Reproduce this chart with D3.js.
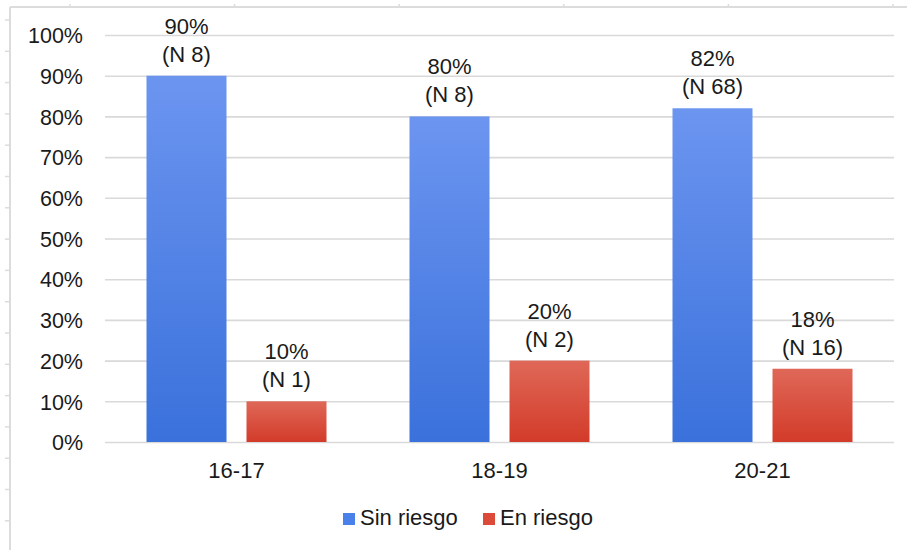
<!DOCTYPE html>
<html><head><meta charset="utf-8">
<script src="https://cdn.jsdelivr.net/npm/d3@7"></script>
<style>
html,body{margin:0;padding:0;background:#fff;}
svg{display:block;font-family:"Liberation Sans",Arial,Helvetica,sans-serif;}
</style></head>
<body>
<svg id="chart" width="907" height="550"></svg>
<script>
const categories = ["16-17", "18-19", "20-21"];
const seriesNames = ["Sin riesgo", "En riesgo"];
const sinRiesgo = [90, 80, 82];
const enRiesgo = [10, 20, 18];
const sinRiesgoN = [8, 8, 68];
const enRiesgoN = [1, 2, 16];
const yTicks = [0, 10, 20, 30, 40, 50, 60, 70, 80, 90, 100];

const svg = d3.select("#chart");
const W = 907, H = 550;
const plot = {left: 105, right: 894, top: 35, bottom: 442};

// gradients
const defs = svg.append("defs");
const gradSpecs = [
  {id: "gBlue", top: "#6c95f0", bottom: "#3a71db"},
  {id: "gRed", top: "#df6858", bottom: "#d33b29"}
];
gradSpecs.forEach(g => {
  const lg = defs.append("linearGradient").attr("id", g.id)
    .attr("x1", 0).attr("y1", 0).attr("x2", 0).attr("y2", 1);
  lg.append("stop").attr("offset", "0%").attr("stop-color", g.top);
  lg.append("stop").attr("offset", "100%").attr("stop-color", g.bottom);
});

// outer frame (spreadsheet-style border)
const frame = svg.append("g").attr("stroke", "#dcdcdc").attr("fill", "none");
frame.append("line").attr("x1", 10).attr("x2", W).attr("y1", 7).attr("y2", 7).attr("stroke-width", 2);
frame.append("line").attr("x1", 10).attr("x2", 10).attr("y1", 7).attr("y2", H).attr("stroke-width", 2);
d3.range(70, W, 164.6).forEach(x => {
  frame.append("line").attr("x1", x).attr("x2", x).attr("y1", 4).attr("y2", 7).attr("stroke-width", 1.5);
});
d3.range(20, H, 31.3).forEach(y => {
  frame.append("line").attr("x1", 5).attr("x2", 10).attr("y1", y).attr("y2", y).attr("stroke-width", 1.5);
});

const y = d3.scaleLinear().domain([0, 100]).range([plot.bottom, plot.top]);
const x0 = d3.scaleBand().domain(categories).range([plot.left, plot.right]).paddingInner(0).paddingOuter(0);
const x1 = d3.scaleBand().domain(seriesNames).range([41.5, x0.bandwidth() - 41.5]).paddingInner(0.2).paddingOuter(0);

// gridlines
const yAxis = d3.axisLeft(y).tickValues(yTicks).tickFormat(d => d + "%")
  .tickSize(-(plot.right - plot.left)).tickPadding(22);
const ga = svg.append("g").attr("transform", `translate(${plot.left},0)`).call(yAxis);
ga.select(".domain").remove();
ga.selectAll(".tick line").attr("stroke", "#d9d9d9").attr("stroke-width", 1.6);
ga.selectAll(".tick text").attr("font-size", 21.5).attr("fill", "#1a1a1a")
  .attr("font-family", '"Liberation Sans",Arial,sans-serif').attr("dy", "0.36em");

// bars
const data = categories.map((c, i) => ({
  cat: c,
  vals: [
    {s: seriesNames[0], v: sinRiesgo[i], n: sinRiesgoN[i], fill: "url(#gBlue)"},
    {s: seriesNames[1], v: enRiesgo[i], n: enRiesgoN[i], fill: "url(#gRed)"}
  ]
}));

const groups = svg.append("g").selectAll("g").data(data).join("g")
  .attr("transform", d => `translate(${x0(d.cat)},0)`);

groups.selectAll("rect").data(d => d.vals).join("rect")
  .attr("x", d => x1(d.s))
  .attr("width", x1.bandwidth())
  .attr("y", d => y(d.v))
  .attr("height", d => y(0) - y(d.v))
  .attr("fill", d => d.fill);

const lab = groups.selectAll("text.lab").data(d => d.vals).join("text")
  .attr("class", "lab")
  .attr("text-anchor", "middle")
  .attr("font-size", 22)
  .attr("fill", "#1a1a1a");
lab.append("tspan").attr("x", d => x1(d.s) + x1.bandwidth() / 2)
  .attr("y", d => y(d.v) - 42).text(d => d.v + "%");
lab.append("tspan").attr("x", d => x1(d.s) + x1.bandwidth() / 2)
  .attr("y", d => y(d.v) - 14).text(d => "(N " + d.n + ")");

// x axis labels
const xAxis = d3.axisBottom(x0).tickSize(0).tickPadding(20);
const gx = svg.append("g").attr("transform", `translate(0,${plot.bottom})`).call(xAxis);
gx.select(".domain").remove();
gx.selectAll(".tick text").attr("font-size", 22).attr("fill", "#1a1a1a")
  .attr("font-family", '"Liberation Sans",Arial,sans-serif');

// legend
const legendColors = ["#4a80ea", "#dc4a3a"];
const legendX = [343, 483];
const lg = svg.append("g").selectAll("g").data(seriesNames).join("g")
  .attr("transform", (d, i) => `translate(${legendX[i]},513)`);
lg.append("rect").attr("width", 12).attr("height", 12).attr("fill", (d, i) => legendColors[i]);
lg.append("text").attr("x", 17).attr("y", 11.5).attr("font-size", 22).attr("fill", "#1a1a1a").text(d => d);
</script>
</body></html>
